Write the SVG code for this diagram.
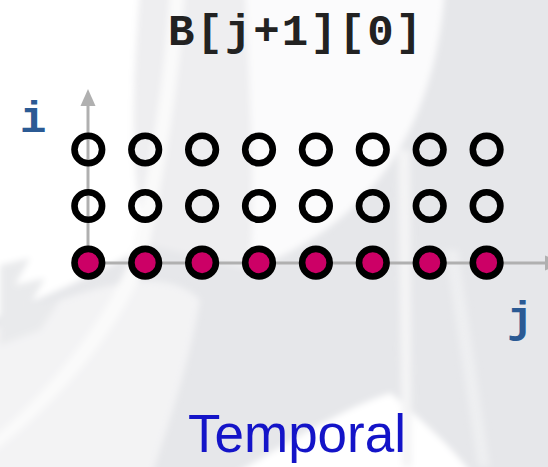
<svg xmlns="http://www.w3.org/2000/svg" width="548" height="467" viewBox="0 0 548 467">
<defs>
<style>
.ring{fill:none;stroke:#000000;stroke-width:6.6}
.ring.hot{fill:#cc0066}
.axis{stroke:#b0b0b0;stroke-width:3;fill:none}
.lbl{font-family:"Liberation Mono","Courier New",monospace;font-weight:bold;fill:#2b5a94;font-size:44px}
.title{font-family:"Liberation Mono","Courier New",monospace;font-weight:bold;fill:#222222;font-size:44px}
.cap{font-family:"Liberation Sans",Arial,sans-serif;fill:#1414c8;font-size:53px}
</style>
<filter id="soft" x="-10%" y="-10%" width="120%" height="120%"><feGaussianBlur stdDeviation="3"/></filter>
</defs>
<!-- background watermark -->
<g id="background">
<rect width="548" height="467" fill="#e6e7ea"/>
<g filter="url(#soft)">
<path d="M-10,-10 L140,-10 C132,90 128,190 150,245 L70,285 L-10,320 Z" fill="#ffffff"/>
<path d="M240,-10 L445,-10 C438,80 410,150 360,200 C330,230 300,250 250,270 C255,180 250,90 240,-10 Z" fill="#fbfbfc"/>
<path d="M140,-10 L245,-10 C250,90 255,180 250,270 L150,245 C128,190 132,90 140,-10 Z" fill="#eeeef0"/>
<path d="M-10,330 L60,300 C120,280 170,270 200,300 C190,360 170,420 150,480 L-10,480 Z" fill="#f3f3f4"/>
<path d="M225,480 C300,435 350,405 391,393 C420,420 452,445 476,480 Z" fill="#ffffff"/>
<path d="M170,-10 C165,80 150,170 130,260 C100,330 40,400 -10,440 L-10,455 C50,410 115,340 145,265 C165,170 180,80 185,-10 Z" fill="#fafafa"/>
<path d="M398,150 L410,150 L412,467 L402,467 Z" fill="#f4f4f5"/>
<path d="M445,250 L458,250 L490,467 L478,467 Z" fill="#eeeff1"/>
<path d="M0,265 L30,258 L15,285 L45,278 L30,305 L60,300 L40,330 L0,345 Z" fill="#e9eaec"/>
</g>
</g>
<!-- connectors (axes) -->
<g id="connectors">
<line class="axis" x1="88" y1="263" x2="88" y2="102"/>
<polygon points="88,89 80.5,106 95.5,106" fill="#b0b0b0"/>
<line class="axis" x1="88" y1="263" x2="548" y2="263"/>
<polygon points="562,263 545,255.5 545,270.5" fill="#b0b0b0"/>
</g>
<text class="title" x="168" y="45" textLength="254" lengthAdjust="spacing">B[j+1][0]</text>
<text class="lbl" x="20" y="132">i</text>
<text class="lbl" x="507" y="332">j</text>
<!-- row i=2 -->
<g id="n-2-0"><circle class="ring" cx="88.3" cy="149.5" r="13.8"/></g>
<g id="n-2-1"><circle class="ring" cx="145.2" cy="149.5" r="13.8"/></g>
<g id="n-2-2"><circle class="ring" cx="202.1" cy="149.5" r="13.8"/></g>
<g id="n-2-3"><circle class="ring" cx="259" cy="149.5" r="13.8"/></g>
<g id="n-2-4"><circle class="ring" cx="315.9" cy="149.5" r="13.8"/></g>
<g id="n-2-5"><circle class="ring" cx="372.8" cy="149.5" r="13.8"/></g>
<g id="n-2-6"><circle class="ring" cx="429.7" cy="149.5" r="13.8"/></g>
<g id="n-2-7"><circle class="ring" cx="486.6" cy="149.5" r="13.8"/></g>
<!-- row i=1 -->
<g id="n-1-0"><circle class="ring" cx="88.3" cy="206" r="13.8"/></g>
<g id="n-1-1"><circle class="ring" cx="145.2" cy="206" r="13.8"/></g>
<g id="n-1-2"><circle class="ring" cx="202.1" cy="206" r="13.8"/></g>
<g id="n-1-3"><circle class="ring" cx="259" cy="206" r="13.8"/></g>
<g id="n-1-4"><circle class="ring" cx="315.9" cy="206" r="13.8"/></g>
<g id="n-1-5"><circle class="ring" cx="372.8" cy="206" r="13.8"/></g>
<g id="n-1-6"><circle class="ring" cx="429.7" cy="206" r="13.8"/></g>
<g id="n-1-7"><circle class="ring" cx="486.6" cy="206" r="13.8"/></g>
<!-- row i=0 -->
<g id="n-0-0"><circle class="ring hot" cx="88.3" cy="262.7" r="13.8"/></g>
<g id="n-0-1"><circle class="ring hot" cx="145.2" cy="262.7" r="13.8"/></g>
<g id="n-0-2"><circle class="ring hot" cx="202.1" cy="262.7" r="13.8"/></g>
<g id="n-0-3"><circle class="ring hot" cx="259" cy="262.7" r="13.8"/></g>
<g id="n-0-4"><circle class="ring hot" cx="315.9" cy="262.7" r="13.8"/></g>
<g id="n-0-5"><circle class="ring hot" cx="372.8" cy="262.7" r="13.8"/></g>
<g id="n-0-6"><circle class="ring hot" cx="429.7" cy="262.7" r="13.8"/></g>
<g id="n-0-7"><circle class="ring hot" cx="486.6" cy="262.7" r="13.8"/></g>
<text class="cap" x="188" y="452">Temporal</text>
</svg>
